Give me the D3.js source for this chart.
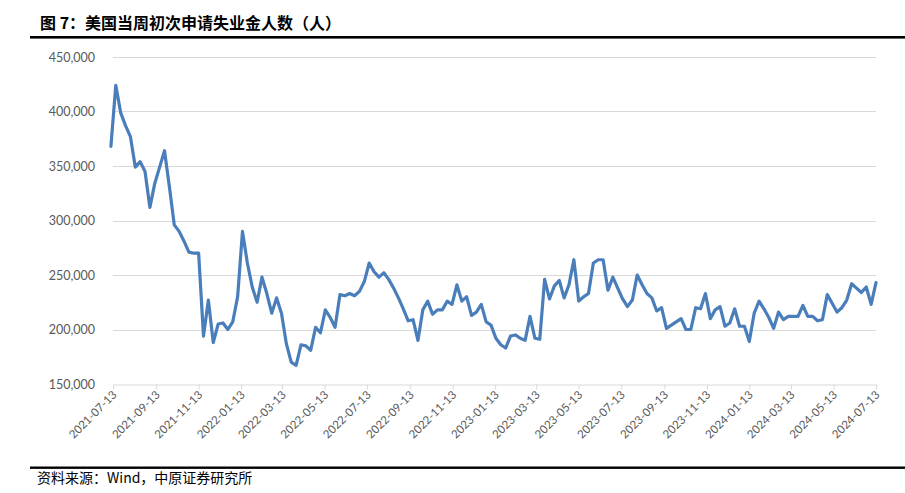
<!DOCTYPE html>
<html>
<head>
<meta charset="utf-8">
<script src="https://cdn.jsdelivr.net/npm/d3@7/dist/d3.min.js"></script>
<style>
  html, body { margin: 0; padding: 0; background: #fff; }
  svg { display: block; }
</style>
</head>
<body>
<svg id="chart" width="905" height="493"></svg>
<script>
// ---- data ----
const titleText = "图 7：美国当周初次申请失业金人数（人）";
const sourceText = "资料来源：Wind，中原证券研究所";
const firstWeek = "2021-07-10"; // weekly observations (week ending Saturday)
const claims = [
  368000,424000,399000,387000,377000,349000,354000,345000,312000,334000,349000,364000,
  331000,296000,290000,281000,271000,270000,270000,194000,227000,188000,205000,206000,200000,
  207000,230000,290000,261000,239000,225000,248000,233000,215000,229000,215000,187000,170000,
  167000,186000,185000,181000,202000,197000,218000,211000,202000,232000,231000,233000,231000,
  235000,244000,261000,253000,248000,252000,246000,238000,229000,219000,208000,209000,190000,
  218000,226000,214000,218000,218000,226000,223000,241000,226000,230000,213000,216000,223000,207000,
  204000,192000,186000,183000,194000,195000,192000,190000,212000,192000,191000,246000,
  228000,240000,245000,229000,241000,264000,226000,230000,233000,261000,264000,264000,236000,
  248000,238000,228000,221000,227000,250000,241000,233000,229000,217000,220000,201000,204000,
  207000,210000,200000,200000,220000,219000,233000,210000,218000,221000,203000,206000,219000,203000,
  203000,189000,215000,226000,219000,211000,201000,216000,209000,212000,212000,212000,222000,
  212000,212000,208000,209000,232000,224000,216000,220000,227000,242000,238000,234000,239000,
  223000,243000
];
const xTickLabels = ["2021-07-13","2021-09-13","2021-11-13","2022-01-13","2022-03-13","2022-05-13",
  "2022-07-13","2022-09-13","2022-11-13","2023-01-13","2023-03-13","2023-05-13","2023-07-13",
  "2023-09-13","2023-11-13","2024-01-13","2024-03-13","2024-05-13","2024-07-13"];
const yTicks = [150000,200000,250000,300000,350000,400000,450000];

// ---- build ----
const parse = d3.utcParse("%Y-%m-%d");
const start = parse(firstWeek);
const data = claims.map((v, i) => ({ date: d3.utcDay.offset(start, 7 * i), value: v }));
const tickDates = xTickLabels.map(parse);

const svg = d3.select("#chart");
const plot = { left: 113, right: 876, top: 57, bottom: 384 };

const x = d3.scaleUtc()
  .domain([tickDates[0], tickDates[tickDates.length - 1]])
  .range([plot.left, plot.right]);
const y = d3.scaleLinear()
  .domain([150000, 450000])
  .range([plot.bottom, plot.top]);

// title
svg.append("text")
  .attr("x", 40).attr("y", 29)
  .attr("font-family", "'Noto Sans CJK SC', sans-serif")
  .attr("font-weight", "bold")
  .attr("font-size", 16)
  .attr("fill", "#000")
  .text(titleText);

svg.append("rect").attr("x", 30).attr("y", 36).attr("width", 875).attr("height", 2.6).attr("fill", "#000");
svg.append("rect").attr("x", 30).attr("y", 466.5).attr("width", 875).attr("height", 2.4).attr("fill", "#000");

// gridlines
svg.append("g")
  .selectAll("line")
  .data(yTicks.slice(1))
  .join("line")
  .attr("x1", plot.left).attr("x2", plot.right)
  .attr("y1", d => Math.round(y(d)) + 0.5).attr("y2", d => Math.round(y(d)) + 0.5)
  .attr("stroke", "#d9d9d9").attr("stroke-width", 1);

// y axis labels
const yAxis = d3.axisLeft(y)
  .tickValues(yTicks)
  .tickFormat(d3.format(","))
  .tickSize(0)
  .tickPadding(18);
const gy = svg.append("g").attr("transform", `translate(${plot.left},0)`).call(yAxis);
gy.select(".domain").remove();
gy.selectAll("text")
  .attr("font-family", "Lato, 'Open Sans', sans-serif")
  .attr("font-size", 12.5)
  .attr("fill", "#595959");

// x axis
const xAxis = d3.axisBottom(x)
  .tickValues(tickDates)
  .tickFormat(d3.utcFormat("%Y-%m-%d"))
  .tickSizeInner(5)
  .tickSizeOuter(0);
const gx = svg.append("g").attr("transform", `translate(0,${plot.bottom + 0.5})`).call(xAxis);
gx.select(".domain").attr("stroke", "#d9d9d9");
gx.selectAll(".tick line").attr("stroke", "#d9d9d9");
gx.selectAll("text")
  .attr("font-family", "Lato, 'Open Sans', sans-serif")
  .attr("font-size", 11.5)
  .attr("fill", "#595959")
  .attr("text-anchor", "end")
  .attr("dy", null)
  .attr("y", null)
  .attr("transform", "translate(4,11) rotate(-45)");

// line
const line = d3.line()
  .x(d => x(d.date))
  .y(d => y(d.value));
svg.append("path")
  .datum(data)
  .attr("d", line)
  .attr("fill", "none")
  .attr("stroke", "#4a7ebb")
  .attr("stroke-width", 3.2)
  .attr("stroke-linejoin", "round")
  .attr("stroke-linecap", "round");

// source
svg.append("text")
  .attr("x", 37).attr("y", 483)
  .attr("font-family", "'Noto Sans CJK SC', sans-serif")
  .attr("font-size", 14)
  .attr("fill", "#000")
  .text(sourceText);
</script>
</body>
</html>
